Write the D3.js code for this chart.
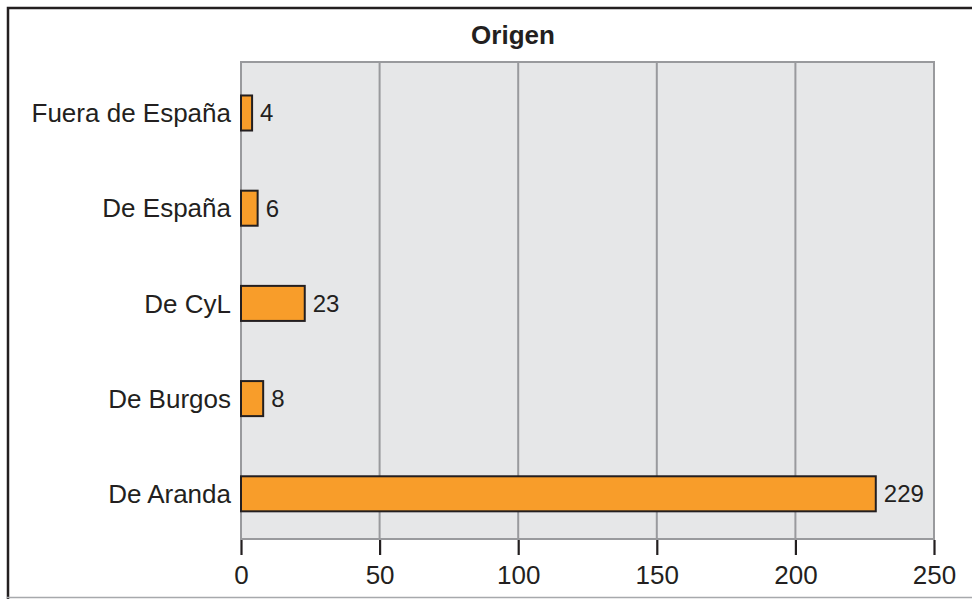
<!DOCTYPE html>
<html>
<head>
<meta charset="utf-8">
<script src="https://cdn.jsdelivr.net/npm/d3@7"></script>
<style>
  html, body { margin: 0; padding: 0; background: #fff; overflow: hidden; }
  text { font-family: "Liberation Sans", Arial, Helvetica, sans-serif; fill: #231f20; }
</style>
</head>
<body>
<svg id="svg"></svg>
<script>
// data
const categories = ["Fuera de España", "De España", "De CyL", "De Burgos", "De Aranda"];
const values = [4, 6, 23, 8, 229];
const xTicks = [0, 50, 100, 150, 200, 250];
const chartTitle = "Origen";

let layout = {"width": 972, "height": 599,
              "plotLeft": 241, "plotRight": 934,
              "plotTop": 62, "plotBottom": 539};

let svgElement = d3.select("#svg")
  .attr("width", layout.width)
  .attr("height", layout.height);

// outer frame (cut on the right and bottom)
svgElement.append("rect")
  .attr("x", 8).attr("y", 8)
  .attr("width", 1100).attr("height", 700)
  .attr("fill", "none")
  .attr("stroke", "#231f20")
  .attr("stroke-width", 2.5);
svgElement.append("line")
  .attr("x1", 7).attr("x2", layout.width)
  .attr("y1", 597.5).attr("y2", 597.5)
  .attr("stroke", "#a7a9ac").attr("stroke-width", 1.5);

let xScale = d3.scaleLinear()
  .domain([0, 250])
  .range([layout.plotLeft, layout.plotRight]);

let yScale = d3.scaleBand()
  .domain(categories)
  .range([65.4, 541.4])
  .paddingInner(0.632)
  .paddingOuter(0.316);

// plot background
svgElement.append("rect")
  .attr("x", layout.plotLeft).attr("y", layout.plotTop)
  .attr("width", layout.plotRight - layout.plotLeft)
  .attr("height", layout.plotBottom - layout.plotTop)
  .attr("fill", "#e6e7e8");

// grid lines
svgElement.append("g")
  .selectAll("line")
  .data(xTicks)
  .join("line")
  .attr("x1", d => xScale(d)).attr("x2", d => xScale(d))
  .attr("y1", layout.plotTop).attr("y2", layout.plotBottom)
  .attr("stroke", "#999a9d")
  .attr("stroke-width", 2);

// plot border
svgElement.append("rect")
  .attr("x", layout.plotLeft).attr("y", layout.plotTop)
  .attr("width", layout.plotRight - layout.plotLeft)
  .attr("height", layout.plotBottom - layout.plotTop)
  .attr("fill", "none")
  .attr("stroke", "#999a9d")
  .attr("stroke-width", 2);

// x axis
let xAxis = svgElement.append("g")
  .attr("transform", `translate(0, ${layout.plotBottom + 1})`)
  .call(d3.axisBottom(xScale).tickValues(xTicks).tickSize(15).tickPadding(11));
xAxis.select(".domain").remove();
xAxis.selectAll(".tick line").attr("stroke", "#231f20").attr("stroke-width", 2.2);
xAxis.selectAll(".tick text")
  .attr("fill", "#231f20")
  .style("font-size", "26px")
  .style("font-family", "'Liberation Sans', Arial, Helvetica, sans-serif");

// category labels
svgElement.append("g")
  .selectAll("text")
  .data(categories)
  .join("text")
  .attr("x", layout.plotLeft - 10)
  .attr("y", d => yScale(d) + yScale.bandwidth() / 2)
  .attr("dy", "0.35em")
  .attr("text-anchor", "end")
  .style("font-size", "26px")
  .text(d => d);

// bars
svgElement.append("g")
  .selectAll("rect")
  .data(values)
  .join("rect")
  .attr("x", xScale(0))
  .attr("y", (d, i) => yScale(categories[i]))
  .attr("width", d => xScale(d) - xScale(0))
  .attr("height", yScale.bandwidth())
  .attr("fill", "#f89d2a")
  .attr("stroke", "#231f20")
  .attr("stroke-width", 2);

// value labels
svgElement.append("g")
  .selectAll("text")
  .data(values)
  .join("text")
  .attr("x", d => xScale(d) + 8)
  .attr("y", (d, i) => yScale(categories[i]) + yScale.bandwidth() / 2)
  .attr("dy", "0.35em")
  .style("font-size", "24px")
  .text(d => d);

// title
svgElement.append("text")
  .attr("x", 513)
  .attr("y", 44)
  .attr("text-anchor", "middle")
  .style("font-size", "26px")
  .style("font-weight", "bold")
  .text(chartTitle);
</script>
</body>
</html>
